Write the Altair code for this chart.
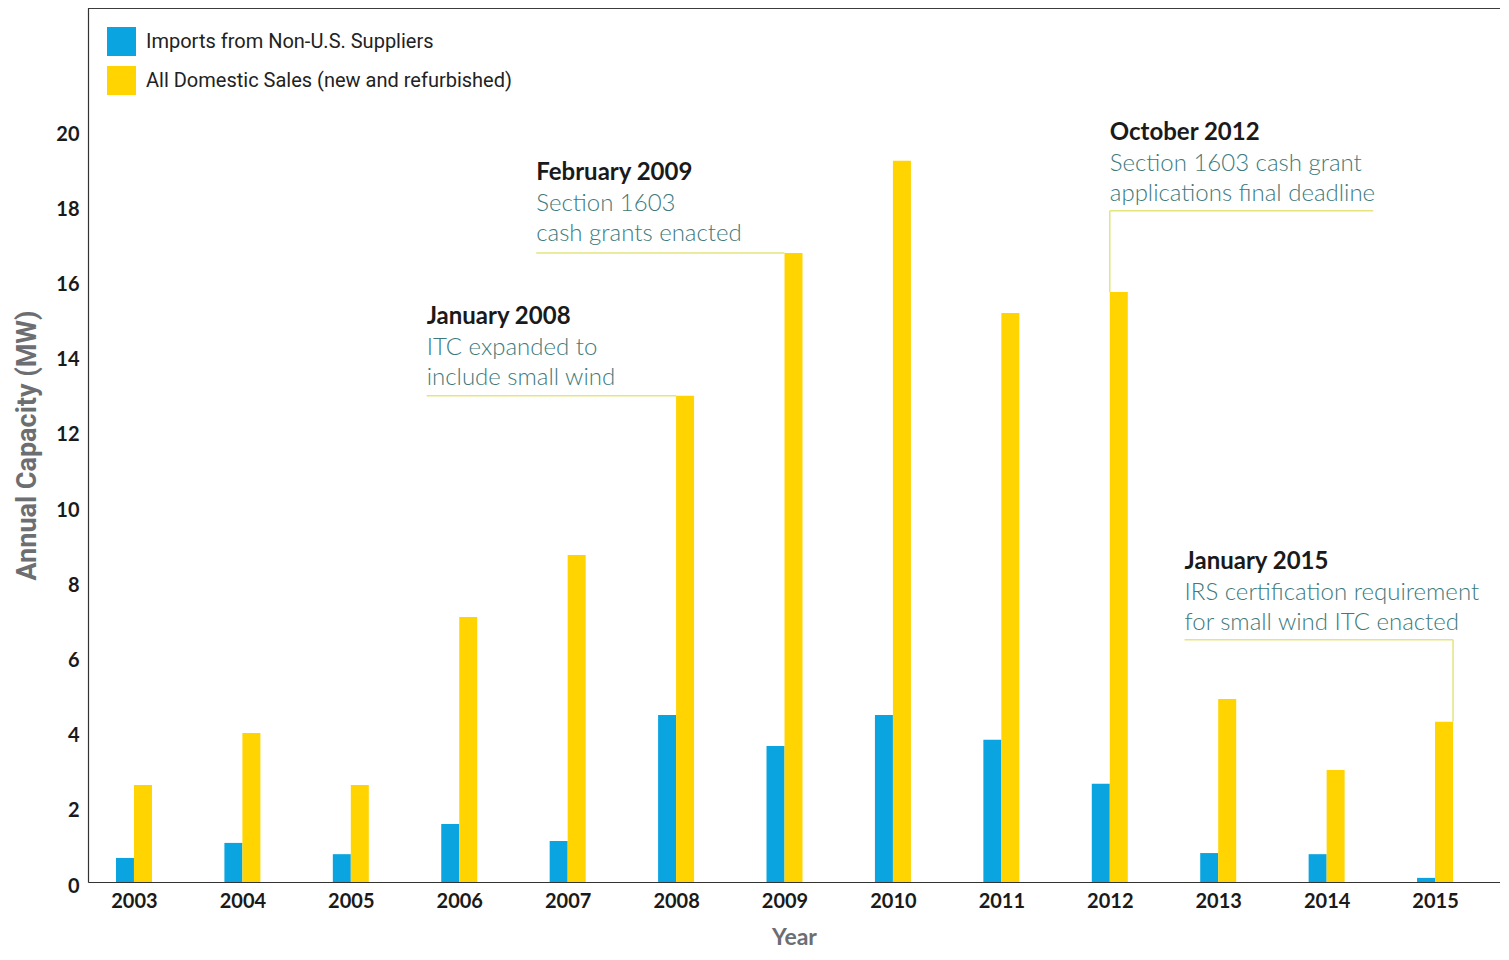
import altair as alt
import pandas as pd

# ---------------- data ----------------
years = list(range(2003, 2016))
imports = [0.64, 1.04, 0.74, 1.54, 1.09, 4.44, 3.62, 4.44, 3.78, 2.61, 0.77, 0.74, 0.11]
domestic = [2.58, 3.96, 2.58, 7.05, 8.70, 12.93, 16.73, 19.18, 15.13, 15.69, 4.87, 2.98, 4.26]
series_names = ["Imports from Non-U.S. Suppliers", "All Domestic Sales (new and refurbished)"]
series_colors = ["#0aa5e1", "#ffd400"]

y_ticks = list(range(0, 21, 2))

annot_titles = ["January 2008", "February 2009", "October 2012", "January 2015"]
annot_line1 = ["ITC expanded to", "Section 1603", "Section 1603 cash grant", "IRS certification requirement"]
annot_line2 = ["include small wind", "cash grants enacted", "applications final deadline", "for small wind ITC enacted"]
annot_x = [2005.70, 2006.71, 2012.0, 2012.69]
annot_title_y = [15.03, 18.86, 19.92, 8.51]
annot_rule_y = [12.93, 16.73, 17.85, 6.44]
annot_rule_x2 = [2008.0, 2009.0, 2014.43, 2015.166]
leader_x = [2012.0, 2015.166]
leader_y = [17.85, 6.44]
leader_y2 = [15.69, 4.26]

BAR_W = 0.166          # bar width in years
X_DOMAIN = [2002.576, 2015.599]
Y_DOMAIN = [0, 23.245]
W, H = 1412, 874

# ---------------- tables ----------------
rows = []
for i, yr in enumerate(years):
    rows.append({"year": yr, "series": series_names[0], "value": imports[i],
                 "x0": yr - BAR_W, "x1": yr})
    rows.append({"year": yr, "series": series_names[1], "value": domestic[i],
                 "x0": yr, "x1": yr + BAR_W})
bars_df = pd.DataFrame(rows)

LS = 0.8  # line spacing in data units
text_rows = []
for i in range(len(annot_titles)):
    text_rows.append({"x": annot_x[i], "y": annot_title_y[i], "t": annot_titles[i], "kind": "title"})
    text_rows.append({"x": annot_x[i], "y": annot_title_y[i] - 0.82, "t": annot_line1[i], "kind": "body"})
    text_rows.append({"x": annot_x[i], "y": annot_title_y[i] - 0.82 - LS, "t": annot_line2[i], "kind": "body"})
text_df = pd.DataFrame(text_rows)

under_df = pd.DataFrame({"x": annot_x, "x2": annot_rule_x2, "y": annot_rule_y})
leader_df = pd.DataFrame({"x": leader_x, "y": leader_y, "y2": leader_y2})

xs = alt.Scale(domain=X_DOMAIN, nice=False, zero=False)
ys = alt.Scale(domain=Y_DOMAIN, nice=False, zero=True)

bars = alt.Chart(bars_df).mark_bar().encode(
    x=alt.X("x0:Q", scale=xs,
            axis=alt.Axis(values=years, format="d", title="Year", grid=False, ticks=False,
                          labelFont="Lato", labelFontWeight="bold", labelFontSize=20,
                          labelColor="#1a1a1a", labelPadding=9,
                          titleFont="Lato", titleFontWeight="bold", titleFontSize=23,
                          titleColor="#6d6e71", titlePadding=15,
                          domainColor="#333333", domainWidth=1.2)),
    x2="x1:Q",
    y=alt.Y("value:Q", scale=ys,
            axis=alt.Axis(values=y_ticks, title="Annual Capacity (MW)", grid=False, ticks=False,
                          labelFont="Lato", labelFontWeight="bold", labelFontSize=20,
                          labelColor="#1a1a1a", labelPadding=9, labelOffset=4,
                          titleFont="Roboto", titleFontWeight="bold",
                          titleFontSize=27, titleColor="#6d6e71", titlePadding=14,
                          domainColor="#333333", domainWidth=1.2)),
    y2=alt.datum(0),
    color=alt.Color("series:N",
                    scale=alt.Scale(domain=series_names, range=series_colors),
                    legend=alt.Legend(title=None, orient="none", legendX=19, legendY=19,
                                      symbolType="square", symbolSize=841, symbolStrokeWidth=0,
                                      symbolOpacity=1, labelFont="Roboto",
                                      labelFontSize=20, labelColor="#222222", labelOffset=10,
                                      labelLimit=0, rowPadding=10, padding=0)),
)

underlines = alt.Chart(under_df).mark_rule(color="#e4e57e", strokeWidth=1.5).encode(
    x="x:Q", x2="x2:Q", y="y:Q")
leaders = alt.Chart(leader_df).mark_rule(color="#e4e57e", strokeWidth=1.5).encode(
    x="x:Q", y="y:Q", y2="y2:Q")

titles = alt.Chart(text_df).transform_filter(alt.datum.kind == "title").mark_text(
    align="left", baseline="middle", font="Lato", fontWeight="bold", fontSize=24, color="#1a1a1a"
).encode(x="x:Q", y="y:Q", text="t:N")
bodies = alt.Chart(text_df).transform_filter(alt.datum.kind == "body").mark_text(
    align="left", baseline="middle", font="Lato", fontWeight=300, fontSize=24, color="#3d7a7c"
).encode(x="x:Q", y="y:Q", text="t:N")

top_border = alt.Chart(under_df).mark_rule(color="#333333", strokeWidth=1.2).encode(
    y=alt.value(0), x=alt.value(0), x2=alt.value(W))

chart = alt.layer(bars, underlines, leaders, titles, bodies, top_border).properties(
    width=W, height=H,
    autosize=alt.AutoSizeParams(type="none"),
    padding={"left": 80, "top": 0, "right": 0, "bottom": 72},
).configure_view(stroke=None).configure(background="white")

chart.save("out.html", embed_options={"renderer": "svg", "actions": False})
